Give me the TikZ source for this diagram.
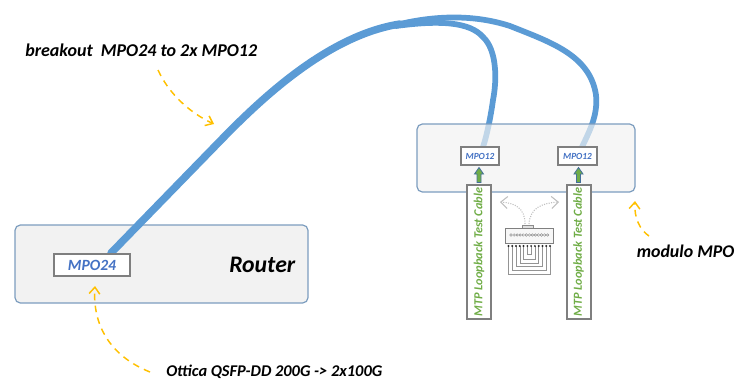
\documentclass[tikz,border=0pt]{standalone}
\usepackage{fontspec}
\setmainfont{Carlito}
\usetikzlibrary{arrows.meta}
\definecolor{cablec}{HTML}{5B9BD5}
\definecolor{boxedge}{HTML}{7C9DBF}
\definecolor{boxfill}{HTML}{F2F2F2}
\definecolor{portedge}{HTML}{7F7F7F}
\definecolor{portblue}{HTML}{4472C4}
\definecolor{loopgreen}{HTML}{70AD47}
\definecolor{noteorange}{HTML}{FFC000}
\definecolor{arrowedge}{HTML}{44709A}
\tikzset{
  x=0.75pt,y=-0.75pt,
  panel/.style={draw=boxedge,line width=0.9pt,fill=boxfill,rounded corners=4pt},
  port/.style={draw=portedge,line width=1.5pt,fill=white,inner sep=0pt,text=portblue,font=\bfseries\itshape},
  testcable/.style={draw=portedge,line width=1.5pt,fill=white,inner sep=0pt,minimum width=100pt,minimum height=18pt,
     text=loopgreen,font=\fontsize{9.2}{9}\selectfont\bfseries\itshape},
  label/.style={inner sep=0pt,anchor=base west,font=\bfseries\itshape},
  cable/.style={draw=cablec,line cap=round,line join=round},
  note/.style={draw=noteorange,line width=1.1pt,dash pattern=on 5pt off 4pt,-{Straight Barb[length=5pt,width=8pt,line width=1.1pt]}},
  grayarrow/.style={draw=black!25,line width=0.8pt,densely dotted,-{Straight Barb[length=5pt,width=9pt,line width=0.8pt,black!25]}},
  uparrow/.style={draw=arrowedge,fill=loopgreen,line width=0.6pt},
  loopwire/.style={draw=black!42,line width=0.35pt},
}
\begin{document}
\begin{tikzpicture}
\useasboundingbox (0,0) rectangle (735,379);
\clip (0,0) rectangle (735,379);

% router
\path[panel] (15,225) rectangle (308,303);
\node[inner sep=0pt,anchor=base west,font=\fontsize{17.8}{18}\selectfont\bfseries\itshape] (router) at (229,272) {Router};

% named cable points
\coordinate (trunkA) at (111,253);
\coordinate (trunkB) at (223,138);
\coordinate (split) at (400,24);
\coordinate (endL) at (483,147);
\coordinate (endR) at (582,147);

% cables
\draw[cable,line width=5.6pt] (trunkA) -- (trunkB) .. controls (265,95) and (330,35) .. (split);
\draw[cable,line width=4.3pt] (split) .. controls (430,17) and (470,13) .. (510,26)
   .. controls (550,42) and (590,55) .. (596,95) .. controls (598,115) and (590,130) .. (endR);
\draw[cable,line width=4.3pt] (396,26) .. controls (440,20) and (470,22) .. (483,37)
   .. controls (497,50) and (497,80) .. (493,100) .. controls (491,115) and (487,135) .. (endL);

% module (semi transparent over the cables)
\path[panel,fill opacity=0.68] (417,124) rectangle (635,192);

% ports
\node[port,minimum width=57pt,minimum height=17pt,font=\fontsize{11.7}{12}\selectfont\bfseries\itshape] (mpo24) at (92,265) {MPO24};
\node[port,minimum width=28.5pt,minimum height=13pt,font=\fontsize{7}{7}\selectfont\bfseries\itshape] (mpoL) at (480,156) {MPO12};
\node[port,minimum width=29pt,minimum height=13pt,font=\fontsize{7}{7}\selectfont\bfseries\itshape] (mpoR) at (577.5,156) {MPO12};

% test cables
\node[testcable,rotate=90] (testL) at (479,252) {MTP Loopback Test Cable};
\node[testcable,rotate=90] (testR) at (578.5,252) {MTP Loopback Test Cable};

% up arrows
\draw[uparrow] (477,182.5) -- (477,174) -- (474.5,174) -- (479,167.5) -- (483.5,174) -- (481,174) -- (481,182.5) -- cycle;
\draw[uparrow] (576.5,182.5) -- (576.5,174) -- (574,174) -- (578.5,167.5) -- (583,174) -- (580.5,174) -- (580.5,182.5) -- cycle;

% loopback connector
\node[draw=black!45,fill=black!12,line width=0.4pt,minimum width=8pt,minimum height=2.2pt,inner sep=0pt] (tab) at (527.5,226.5) {};
\node[draw=black!50,fill=black!3,line width=0.5pt,minimum width=36pt,minimum height=11pt,inner sep=0pt] (conn) at (529,235.5) {};
\foreach \i in {0,...,12}{
  \draw[black!55,line width=0.25pt] ({511+3.05*\i},235) circle [radius=1.3];
}
\foreach \i/\d in {0/274,1/270,2/266,3/263,4/259,5/254}{
  \draw[loopwire] ({508.5+3.8*\i},246) -- ({508.5+3.8*\i},\d) -- ({550-3.8*\i},\d) -- ({550-3.8*\i},246);
}
\foreach \i in {0,...,11}{
  \fill[black!85] ({508.5+3.77*\i},246) circle [radius=1.1];
}

% gray arrows
\coordinate (gl) at (500,202);
\coordinate (gr) at (559,202);
\draw[grayarrow] (525,224) .. controls (525,208) and (515,203) .. (gl);
\draw[grayarrow] (529,224) .. controls (530,208) and (542,203) .. (gr);

% labels
\node[label,font=\fontsize{13.5}{14}\selectfont\bfseries\itshape] (lbreak) at (25,56) {breakout\ \ MPO24 to 2x MPO12};
\node[label,font=\fontsize{12.3}{13}\selectfont\bfseries\itshape] (lottica) at (166,376) {Ottica QSFP-DD 200G -> 2x100G};
\node[label,font=\fontsize{13.4}{14}\selectfont\bfseries\itshape] (lmod) at (636.5,257.5) {modulo MPO};

% notes
\coordinate (n1a) at (158,70); \coordinate (n1b) at (214,124);
\coordinate (n2a) at (150,372); \coordinate (n2b) at (95,286);
\coordinate (n3a) at (649,236); \coordinate (n3b) at (635,201);
\draw[note] (n1a) .. controls (168,92) and (188,112) .. (n1b);
\draw[note] (n2a) .. controls (115,358) and (92,330) .. (n2b);
\draw[note] (n3a) .. controls (640,230) and (634,218) .. (n3b);
\end{tikzpicture}
\end{document}
